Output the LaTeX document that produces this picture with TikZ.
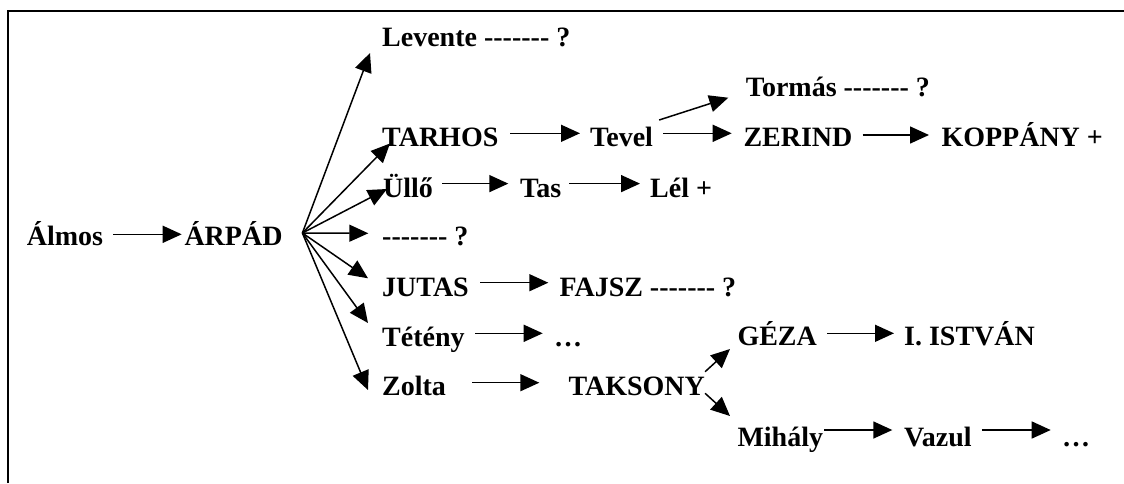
\documentclass[tikz,border=0pt]{standalone}
\usepackage{fontspec}
\newfontfamily\libfont{Liberation Serif}
\usetikzlibrary{arrows.meta}
\begin{document}
\begin{tikzpicture}[x=1pt,y=-1pt,
  lbl/.style={anchor=base west, inner sep=0pt, font=\fontsize{28}{32}\libfont\bfseries},
  arr/.style={line width=1.5pt, -{Triangle[length=19pt,width=17pt]}}]
\useasboundingbox (0,0) rectangle (1124,483);
\draw[line width=2pt] (7.5,483) -- (7.5,11) -- (1124,11);
% nodes
\node[lbl] (almos)   at (26.7,245.7) {Álmos};
\node[lbl] (arpad)   at (184.3,245.7) {ÁRPÁD};
\node[lbl] (levente) at (382,46.7) {Levente ------- ?};
\node[lbl] (tormas)  at (745.7,96.7) {Tormás ------- ?};
\node[lbl] (tarhos)  at (382,146.7) {TARHOS};
\node[lbl] (tevel)   at (590,146.7) {Tevel};
\node[lbl] (zerind)  at (743.3,146.7) {ZERIND};
\node[lbl] (koppany) at (941.3,146.7) {KOPPÁNY +};
\node[lbl] (ullo)    at (383,197) {Üllő};
\node[lbl] (tas)     at (520,197) {Tas};
\node[lbl] (lel)     at (650,197) {Lél +};
\node[lbl] (unk)     at (382,245.7) {------- ?};
\node[lbl] (jutas)   at (382,296.7) {JUTAS};
\node[lbl] (fajsz)   at (559.3,296.7) {FAJSZ ------- ?};
\node[lbl] (teteny)  at (382,346) {Tétény};
\node[lbl] (dotsa)   at (554,346) {…};
\node[lbl] (geza)    at (737.3,345.7) {GÉZA};
\node[lbl] (istvan)  at (904,345.7) {I. ISTVÁN};
\node[lbl] (zolta)   at (382,395) {Zolta};
\node[lbl] (taksony) at (568.3,395) {TAKSONY};
\node[lbl] (mihaly)  at (737.3,446) {Mihály};
\node[lbl] (vazul)   at (904,446) {Vazul};
\node[lbl] (dotsb)   at (1062,446) {…};
% arrows
\draw[arr] ([xshift=10pt,yshift=11.4pt]almos.base east) -- ([xshift=-2.6pt,yshift=11.4pt]arpad.base west);
\coordinate (fan) at ([xshift=19.7pt,yshift=12.7pt]arpad.base east);
\draw[arr] (fan) -- ([xshift=-12pt,yshift=-6.3pt]levente.base west);
\draw[arr] (fan) -- ([xshift=8pt,yshift=3.2pt]tarhos.base west);
\draw[arr] (fan) -- ([xshift=4pt,yshift=8pt]ullo.base west);
\draw[arr] (fan) -- ([xshift=-13.7pt,yshift=12.4pt]unk.base west);
\draw[arr] (fan) -- ([xshift=-14pt,yshift=18.4pt]jutas.base west);
\draw[arr] (fan) -- ([xshift=-14pt,yshift=23pt]teteny.base west);
\draw[arr] (fan) -- ([xshift=-14pt,yshift=5pt]zolta.base west);
\draw[arr] ([xshift=11.5pt,yshift=13.4pt]tarhos.base east) -- ([xshift=-10pt,yshift=13.4pt]tevel.base west);
\draw[arr] ([xshift=10pt,yshift=13.4pt]tevel.base east) -- ([xshift=-11.6pt,yshift=13.4pt]zerind.base west);
\draw[arr] ([xshift=6pt,yshift=26.7pt]tevel.base east) -- ([xshift=-17.4pt,yshift=-1pt]tormas.base west);
\draw[arr] ([xshift=10pt,yshift=11.7pt]zerind.base east) -- ([xshift=-12.3pt,yshift=11.7pt]koppany.base west);
\draw[arr] ([xshift=9pt,yshift=13.4pt]ullo.base east) -- ([xshift=-11.7pt,yshift=13.4pt]tas.base west);
\draw[arr] ([xshift=8pt,yshift=13.4pt]tas.base east) -- ([xshift=-10pt,yshift=13.4pt]lel.base west);
\draw[arr] ([xshift=11pt,yshift=14pt]jutas.base east) -- ([xshift=-11pt,yshift=14pt]fajsz.base west);
\draw[arr] ([xshift=10.6pt,yshift=12.7pt]teteny.base east) -- ([xshift=-11.3pt,yshift=12.7pt]dotsa.base west);
\draw[arr] ([xshift=26pt,yshift=12.3pt]zolta.base east) -- ([xshift=-29pt,yshift=12.3pt]taksony.base west);
\draw[arr] ([yshift=23.3pt]taksony.base east) -- ([xshift=-7.3pt,yshift=-3.3pt]geza.base west);
\draw[arr] ([yshift=1.7pt]taksony.base east) -- ([xshift=-7.3pt,yshift=30pt]mihaly.base west);
\draw[arr] ([xshift=10pt,yshift=12.4pt]geza.base east) -- ([xshift=-10pt,yshift=12.4pt]istvan.base west);
\draw[arr] ([xshift=1pt,yshift=16pt]mihaly.base east) -- ([xshift=-11.7pt,yshift=16pt]vazul.base west);
\draw[arr] ([xshift=10pt,yshift=16pt]vazul.base east) -- ([xshift=-11.3pt,yshift=16pt]dotsb.base west);
\end{tikzpicture}
\end{document}
